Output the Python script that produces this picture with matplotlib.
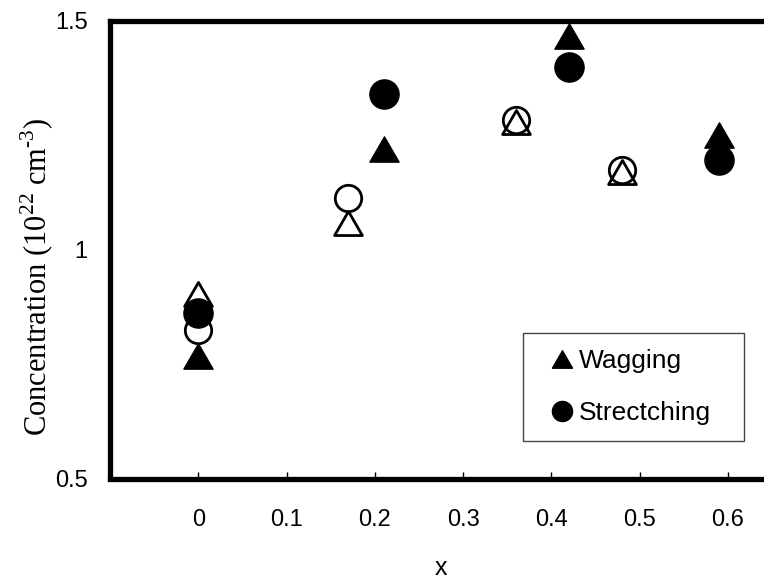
"""Hydrogen concentration from wagging and stretching modes versus x."""

import matplotlib
matplotlib.use("Agg")
import matplotlib.pyplot as plt
from matplotlib.path import Path

# hollow markers (unlabelled series)
x_open = [0, 0.17, 0.36, 0.48]
y_open_tri = [0.904, 1.058, 1.28, 1.17]
y_open_circ = [0.825, 1.113, 1.283, 1.174]

# filled markers (legend series)
x_fill = [0, 0.21, 0.42, 0.59]
y_wagging = [0.767, 1.220, 1.468, 1.250]
y_stretching = [0.862, 1.340, 1.400, 1.196]

x_ticks = [0, 0.1, 0.2, 0.3, 0.4, 0.5, 0.6]
x_tick_labels = ['0', '0.1', '0.2', '0.3', '0.4', '0.5', '0.6']
y_ticks = [0.5, 1, 1.5]
y_tick_labels = ['0.5', '1', '1.5']

plt.rcParams['font.family'] = ['Liberation Sans', 'DejaVu Sans']
plt.rcParams['mathtext.fontset'] = 'custom'
plt.rcParams['mathtext.rm'] = 'Liberation Serif'

# flatter triangle like the spreadsheet marker
tri = Path([(-1, -0.866), (1, -0.866), (0, 0.866), (-1, -0.866)],
           [Path.MOVETO, Path.LINETO, Path.LINETO, Path.CLOSEPOLY])

fig = plt.figure(figsize=(7.64, 5.8), dpi=100)
ax = fig.add_axes([0.144, 0.175, 0.8665, 0.7888])

ax.plot(x_open, y_open_tri, linestyle='none', marker=tri, ms=20,
        mfc='none', mec='black', mew=2)
ax.plot(x_open, y_open_circ, linestyle='none', marker='o', ms=19,
        mfc='none', mec='black', mew=2)
ax.plot(x_fill, y_wagging, linestyle='none', marker=tri, ms=21,
        color='black', label='Wagging')
ax.plot(x_fill, y_stretching, linestyle='none', marker='o', ms=21,
        color='black', label='Strectching')

ax.set_xlim(-0.1, 0.65)
ax.set_ylim(0.5, 1.5)
ax.set_xticks(x_ticks, x_tick_labels)
ax.set_yticks(y_ticks, y_tick_labels)
ax.tick_params(axis='x', direction='in', length=5, width=1, pad=22, labelsize=17)
ax.tick_params(axis='y', length=0, pad=16, labelsize=17)

for side in ax.spines.values():
    side.set_linewidth(3.8)

ax.set_xlabel('x', fontsize=18, labelpad=18)
ax.set_ylabel('Concentration (10$^{\\mathregular{22}}$ cm$^{\\text{-3}}$)',
              family='Liberation Serif', fontsize=22)
ax.yaxis.set_label_coords(-0.082, 0.44)

# legend box spans a fixed region; expand mode keeps entries at its left
leg = ax.legend(loc='upper left',
                bbox_to_anchor=(523 / 764, 1 - 441 / 580, 221 / 764, 108 / 580),
                bbox_transform=fig.transFigure, mode='expand',
                fontsize=19, frameon=True, fancybox=False,
                edgecolor='#444444', framealpha=1,
                handlelength=1.78, handletextpad=-0.28, labelspacing=1.08,
                borderpad=0.6, borderaxespad=0, markerscale=0.69)
leg.get_frame().set_linewidth(1)

fig.savefig('out.png', dpi=100)
